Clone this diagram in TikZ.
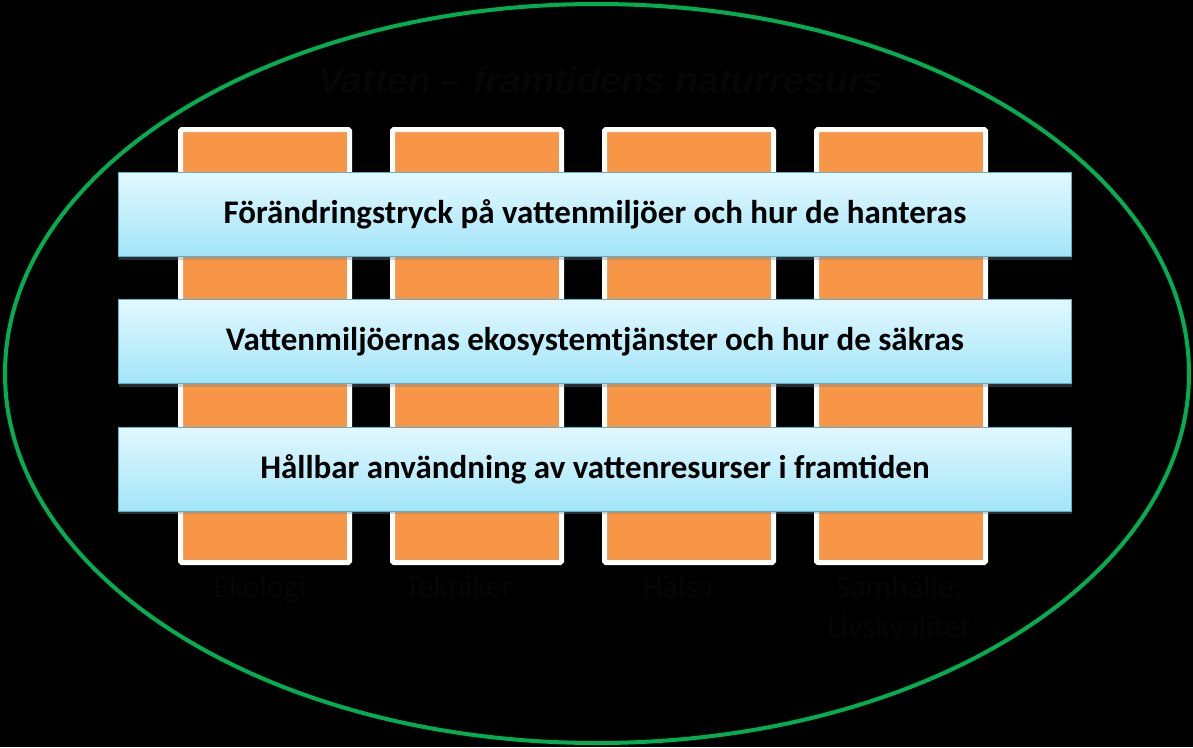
\documentclass[tikz,border=0pt]{standalone}
\usepackage{fontspec}
\setmainfont{Carlito}
\newfontfamily\titlefont{Liberation Sans}
\usepackage{tikz}
\usetikzlibrary{shadows}

\definecolor{ringgreen}{HTML}{00B050}
\definecolor{pillarorange}{HTML}{F79646}
\definecolor{bartop}{HTML}{E2F8FE}
\definecolor{barbottom}{HTML}{A2E5F9}
\definecolor{barline}{HTML}{5BB1CC}
\definecolor{darktext}{HTML}{060606}

\tikzset{
  pillar/.style={draw=white, line width=5pt, fill=pillarorange, rounded corners=1.5pt,
    minimum width=169pt, minimum height=433pt, inner sep=0pt},
  bar/.style={draw=barline, line width=0.8pt, top color=bartop, bottom color=barbottom,
    minimum width=953pt, minimum height=84pt, inner sep=0pt,
    drop shadow={shadow xshift=0pt, shadow yshift=-3pt, opacity=0.35},
    font=\fontsize{33}{38}\selectfont\bfseries},
  pillarlabel/.style={anchor=north, align=center, text=darktext,
    font=\fontsize{32}{40}\selectfont}
}

\begin{document}
\begin{tikzpicture}[x=1pt, y=-1pt]

  \fill[black] (0, 0) rectangle (1193, 747);
  \useasboundingbox (0, 0) rectangle (1193, 747);

  \draw[ringgreen, line width=4pt] (597, 373.5) ellipse [x radius=592, y radius=369.5];

  \node[text=darktext, font=\titlefont\fontsize{37.5}{42}\selectfont\bfseries\itshape] (title) at (601, 80) {Vatten – framtidens naturresurs};

  % pillars
  \node[pillar] (ekologi) at (265, 346) {};
  \node[pillar] (teknik) at (477, 346) {};
  \node[pillar] (halsa) at (689, 346) {};
  \node[pillar] (samhalle) at (901, 346) {};

  \node[pillarlabel] (lekologi) at (260, 572) {Ekologi};
  \node[pillarlabel] (lteknik) at (459, 572) {Tekniker};
  \node[pillarlabel] (lhalsa) at (678, 572) {Hälsa};
  \node[pillarlabel] (lsamhalle) at (899, 572) {Samhälle;\\Livskvalitet};

  % bars
  \node[bar] (tryck) at (595, 214.5) {Förändringstryck på vattenmiljöer och hur de hanteras};
  \node[bar] (eko) at (595, 341.5) {Vattenmiljöernas ekosystemtjänster och hur de säkras};
  \node[bar] (resurs) at (595, 469) {Hållbar användning av vattenresurser i framtiden};

\end{tikzpicture}
\end{document}
